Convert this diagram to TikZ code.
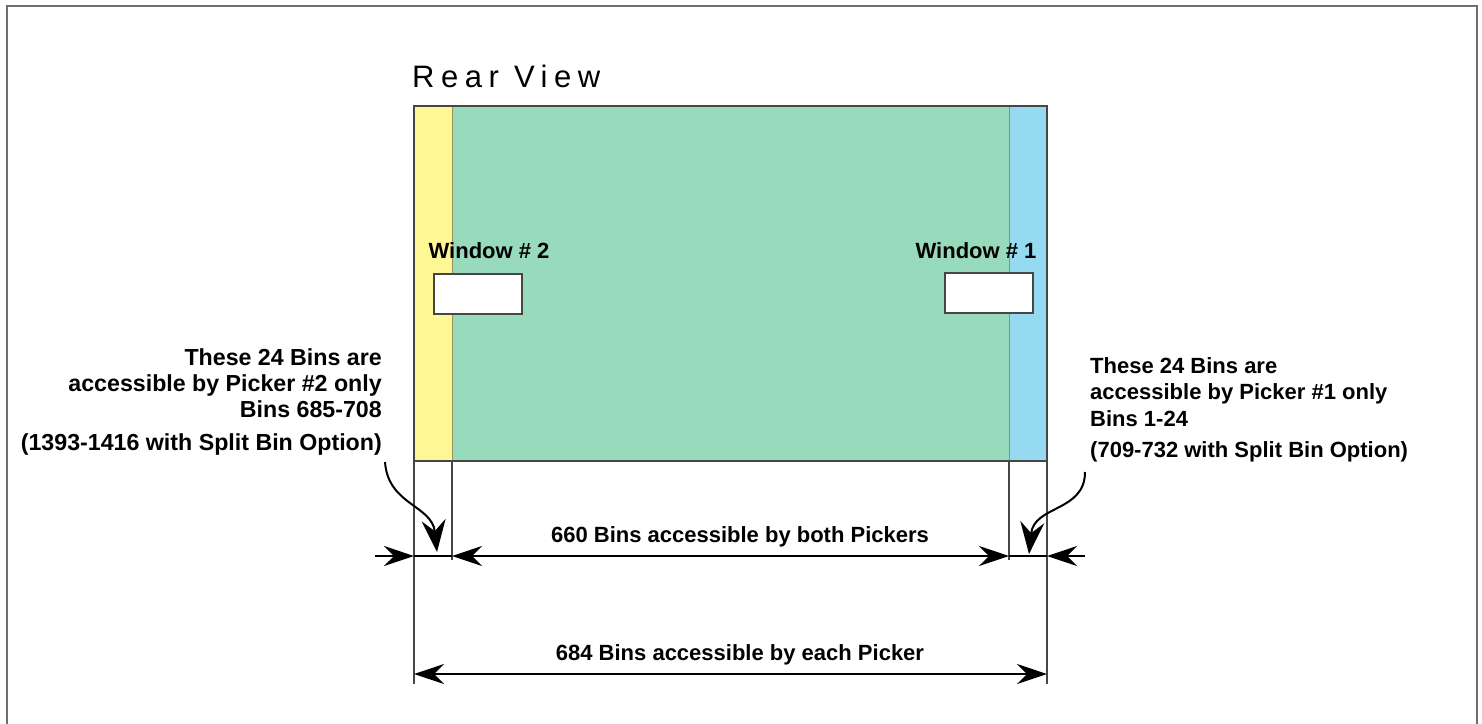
\documentclass[tikz,border=0pt]{standalone}
\usepackage{fontspec}
\setmainfont{Liberation Sans}
\newfontfamily\rvfont[LetterSpace=21]{Liberation Sans}
\usetikzlibrary{arrows.meta}
\definecolor{yel}{RGB}{255,246,150}
\definecolor{grn}{RGB}{152,218,188}
\definecolor{blu}{RGB}{150,218,242}
\definecolor{edgec}{RGB}{70,70,70}
\definecolor{framec}{RGB}{110,110,110}
\tikzset{
  lbl/.style={font=\bfseries\fontsize{22}{26}\selectfont, inner sep=0pt},
  lbll/.style={font=\bfseries\fontsize{23.2}{26}\selectfont, inner sep=0pt},
  tipA/.tip={Stealth[length=30pt,width=20pt,inset=10pt]},
  tipB/.tip={Stealth[length=32pt,width=24pt,inset=11pt]},
  dimline/.style={line width=1.3pt, black},
  extline/.style={line width=1.1pt, edgec},
  curvearrow/.style={line width=2pt, black, -tipB},
  winbox/.style={draw=edgec, line width=2.2pt, fill=white},
}
\begin{document}
\begin{tikzpicture}[x=1pt,y=-1pt]
\useasboundingbox (0,0) rectangle (1482,723);
% outer frame
\draw[framec, line width=2pt] (7,740) -- (7,6) -- (1477,6) -- (1477,740);
% title
\node[anchor=base west, inner sep=0pt, font=\rvfont\fontsize{31}{36}\selectfont] (title) at (412,87) {Rear View};
% main body fills
\fill[grn] (452,106) rectangle (1009,461);
\fill[yel] (414,106) rectangle (452,461);
\fill[blu] (1009,106) rectangle (1047,461);
\draw[line width=0.8pt, yel!60!black] (452,106) -- (452,461);
\draw[line width=0.8pt, blu!70!black] (1009,106) -- (1009,461);
\draw[edgec, line width=2.5pt] (414,106) rectangle (1047,461);
% windows
\node[winbox, minimum width=88pt, minimum height=40pt, inner sep=0pt] (win2) at (478,294) {};
\node[winbox, minimum width=88pt, minimum height=40pt, inner sep=0pt] (win1) at (989,293) {};
\node[lbl, anchor=base] (w2lbl) at (489,258) {Window \# 2};
\node[lbl, anchor=base] (w1lbl) at (976,258) {Window \# 1};
% extension lines
\coordinate (e1t) at (414,461); \coordinate (e1b) at (414,684);
\coordinate (e2t) at (452,461); \coordinate (e2b) at (452,560);
\coordinate (e3t) at (1009,461); \coordinate (e3b) at (1009,560);
\coordinate (e4t) at (1047,461); \coordinate (e4b) at (1047,684);
\draw[extline] (e1t) -- (e1b);
\draw[extline] (e2t) -- (e2b);
\draw[extline] (e3t) -- (e3b);
\draw[extline] (e4t) -- (e4b);
% upper dimension line
\coordinate (d1a) at (375,556);
\coordinate (d1b) at (414,556);
\coordinate (d1c) at (452,556);
\coordinate (d1d) at (1009,556);
\coordinate (d1e) at (1047,556);
\coordinate (d1f) at (1085,556);
\draw[dimline, -tipA] (d1a) -- (d1b);
\draw[dimline] (d1b) -- (d1c);
\draw[dimline, tipA-tipA] (d1c) -- (d1d);
\draw[dimline] (d1d) -- (d1e);
\draw[dimline, tipA-] (d1e) -- (d1f);
\node[lbl, anchor=base] (lbl660) at (740,542) {660 Bins accessible by both Pickers};
% lower dimension line
\coordinate (d2a) at (414,674);
\coordinate (d2b) at (1047,674);
\draw[dimline, tipA-tipA] (d2a) -- (d2b);
\node[lbl, anchor=base] (lbl684) at (740,660) {684 Bins accessible by each Picker};
% left text
\node[lbll, anchor=base east] (l1) at (382,365) {These 24 Bins are};
\node[lbll, anchor=base east] (l2) at (382,391) {accessible by Picker \#2 only};
\node[lbll, anchor=base east] (l3) at (382,417) {Bins 685-708};
\node[lbll, anchor=base east] (l4) at (382,450) {(1393-1416 with Split Bin Option)};
% right text
\node[lbl, anchor=base west] (r1) at (1090,373) {These 24 Bins are};
\node[lbl, anchor=base west] (r2) at (1090,399) {accessible by Picker \#1 only};
\node[lbl, anchor=base west] (r3) at (1090,426) {Bins 1-24};
\node[lbl, anchor=base west] (r4) at (1090,457) {(709-732 with Split Bin Option)};
% curved arrows
\coordinate (cl0) at (385,462);
\coordinate (cl1) at (437,552);
\draw[curvearrow] (cl0) .. controls (388,505) and (432,505) .. (cl1);
\coordinate (cr0) at (1085,472);
\coordinate (cr1) at (1029,554);
\draw[curvearrow] (cr0) .. controls (1085,512) and (1034,505) .. (cr1);
\end{tikzpicture}
\end{document}
